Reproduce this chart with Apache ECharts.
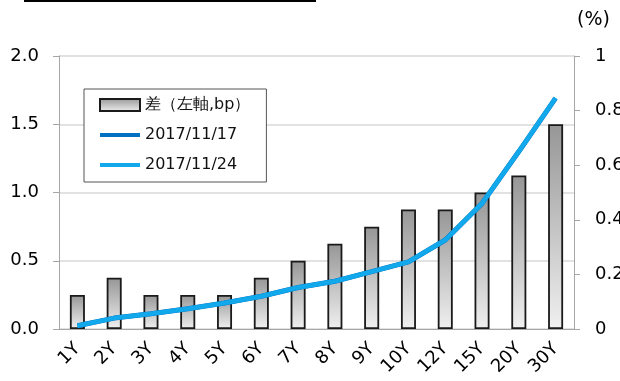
<!DOCTYPE html>
<html>
<head>
<meta charset="utf-8">
<script src="https://cdn.jsdelivr.net/npm/echarts@6/dist/echarts.min.js"></script>
<style>
html, body { margin: 0; padding: 0; background: #fff; }
#chart { width: 620px; height: 381px; }
</style>
</head>
<body>
<div id="chart"></div>
<script>
var categories = ['1Y', '2Y', '3Y', '4Y', '5Y', '6Y', '7Y', '8Y', '9Y', '10Y', '12Y', '15Y', '20Y', '30Y'];
// spread, left axis (bp)
var diffValues = [0.25, 0.375, 0.25, 0.25, 0.25, 0.375, 0.5, 0.625, 0.75, 0.875, 0.875, 1.0, 1.125, 1.5];
// yields, right axis (%)
var yield1117 = [0.012, 0.04, 0.056, 0.074, 0.095, 0.12, 0.152, 0.175, 0.21, 0.246, 0.326, 0.46, 0.65, 0.846];
var yield1124 = [0.012, 0.04, 0.056, 0.074, 0.095, 0.12, 0.152, 0.175, 0.21, 0.246, 0.326, 0.46, 0.65, 0.846];

var font = 'DejaVu Sans, Verdana, sans-serif';
var lineIcon = 'path://M0,0L40,0L40,4L0,4Z';
var chart = echarts.init(document.getElementById('chart'));

chart.setOption({
    animation: false,
    backgroundColor: '#fff',
    grid: {left: 59, right: 46, top: 56, bottom: 52, containLabel: false, outerBoundsMode: 'none'},
    graphic: [
        {type: 'rect', left: 24, top: 0, shape: {width: 292, height: 2}, style: {fill: '#000'}},
        {type: 'text', left: 577, top: 11, style: {text: '(%)', font: '19px ' + font, fill: '#000'}}
    ],
    legend: {
        orient: 'vertical',
        left: 84, top: 89,
        padding: [8, 16, 9, 15],
        itemWidth: 40, itemHeight: 12, itemGap: 14,
        backgroundColor: '#fff',
        borderColor: '#555', borderWidth: 1,
        textStyle: {fontFamily: font, fontSize: 16, color: '#111'},
        data: [
            {name: '差（左軸,bp）', icon: 'rect'},
            {name: '2017/11/17', icon: lineIcon},
            {name: '2017/11/24', icon: lineIcon}
        ]
    },
    xAxis: {
        type: 'category',
        data: categories,
        axisLine: {lineStyle: {color: '#a6a6a6'}},
        axisTick: {length: 7, lineStyle: {color: '#a6a6a6'}},
        axisLabel: {rotate: 45, margin: 17, fontFamily: font, fontSize: 18, color: '#000'}
    },
    yAxis: [{
        type: 'value', min: 0, max: 2, interval: 0.5,
        axisLine: {show: true, lineStyle: {color: '#a6a6a6'}},
        axisTick: {show: true, length: 6, lineStyle: {color: '#a6a6a6'}},
        splitLine: {lineStyle: {color: '#d9d9d9', width: 1.5}},
        axisLabel: {margin: 20, fontFamily: font, fontSize: 18, color: '#000',
            formatter: function(v){ return v.toFixed(1); }}
    }, {
        type: 'value', min: 0, max: 1, interval: 0.2,
        axisLine: {show: true, lineStyle: {color: '#a6a6a6'}},
        axisTick: {show: true, length: 6, lineStyle: {color: '#a6a6a6'}},
        splitLine: {show: false},
        axisLabel: {margin: 21, fontFamily: font, fontSize: 18, color: '#000'}
    }],
    series: [{
        name: '差（左軸,bp）',
        type: 'bar',
        yAxisIndex: 0,
        barWidth: 15,
        data: diffValues,
        itemStyle: {
            color: new echarts.graphic.LinearGradient(0, 0, 0, 1, [
                {offset: 0, color: '#969696'},
                {offset: 1, color: '#f0f0f0'}
            ]),
            borderColor: '#1a1a1a', borderWidth: 1.8
        }
    }, {
        name: '2017/11/17',
        type: 'line',
        yAxisIndex: 1,
        symbol: 'none',
        data: yield1117,
        lineStyle: {color: '#0070c0', width: 5},
        itemStyle: {color: '#0070c0'}
    }, {
        name: '2017/11/24',
        type: 'line',
        yAxisIndex: 1,
        symbol: 'none',
        data: yield1124,
        lineStyle: {color: '#12a9ec', width: 4.5},
        itemStyle: {color: '#12a9ec'}
    }]
});
</script>
</body>
</html>
